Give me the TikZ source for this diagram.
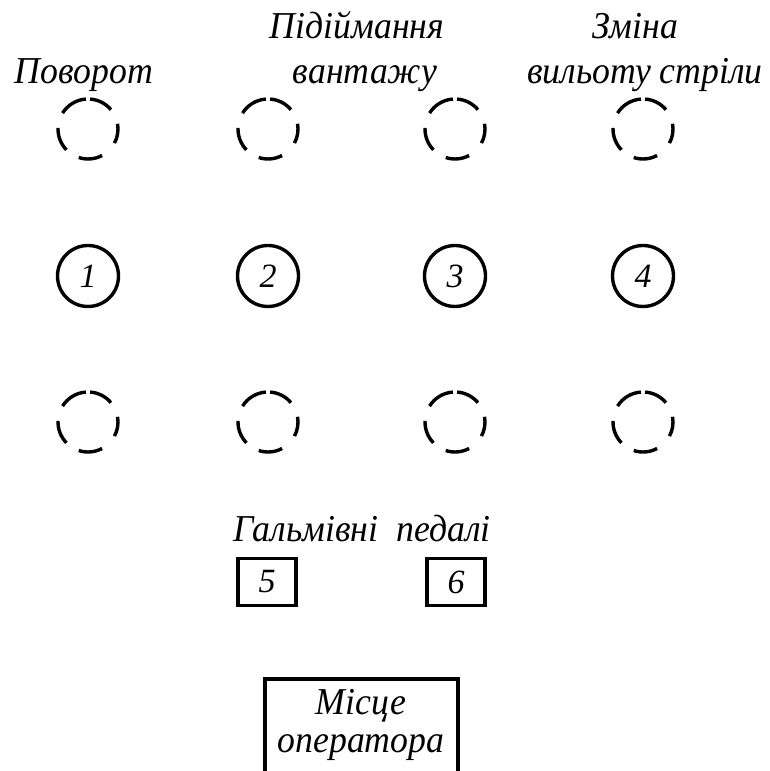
\documentclass[tikz,border=0pt]{standalone}
\usepackage{fontspec}
\setmainfont{Liberation Serif}
\newfontfamily\lblfont[FakeStretch=0.94]{Liberation Serif}
\tikzset{
  lbl/.style={anchor=base, inner sep=0pt, font=\lblfont\fontsize{38}{30}\selectfont\itshape},
  knob/.style={circle, draw, line width=3.4pt, minimum size=61pt, inner sep=0pt, font=\fontsize{34}{36}\selectfont\itshape},
  ringpos/.style={circle, minimum size=61pt, inner sep=0pt},
  ringline/.style={line width=3.4pt},
  pedal/.style={rectangle, draw, line width=3.4pt, minimum width=58pt, minimum height=47pt, inner sep=0pt, font=\fontsize{34}{36}\selectfont\itshape},
  seat/.style={line width=4pt}
}
\newcommand\dashring[1]{%
  \foreach \a/\b in {94/148, 40/86, -28/10, -108/-62, 178/224}{
    \draw[ringline] ([shift={(\a:30pt)}]#1.center) arc[start angle=\a, end angle=\b, radius=30pt];
  }}
\begin{document}
\begin{tikzpicture}[x=1pt,y=1pt]
\useasboundingbox (0,0) rectangle (769,771);
% labels
\node[lbl] (l1) at (84,687) {Поворот};
\node[lbl] (l2a) at (357,732) {Підіймання};
\node[lbl] (l2b) at (365,687) {вантажу};
\node[lbl] (l4a) at (635,732) {Зміна};
\node[lbl] (l4b) at (645,687) {вильоту стріли};
% rings
\foreach \i/\x in {1/88,2/268,3/455,4/643}{
  \node[ringpos] (t\i) at (\x,642) {};
  \node[knob] (k\i) at (\x,495) {\i};
  \node[ringpos] (b\i) at (\x,349) {};
  \dashring{t\i}
  \dashring{b\i}
}
% pedals
\node[lbl] (ped) at (362,229) {Гальмівні\ \ педалі};
\node[pedal] (p5) at (267,189) {5};
\node[pedal] (p6) at (456,189) {6};
% operator seat
\coordinate (s1) at (265,-3);
\coordinate (s2) at (265,92);
\coordinate (s3) at (458,92);
\coordinate (s4) at (458,-3);
\draw[seat] (s1) -- (s2) -- (s3) -- (s4);
\node[lbl] (m1) at (361,56) {Місце};
\node[lbl] (m2) at (361,18) {оператора};
\end{tikzpicture}
\end{document}
